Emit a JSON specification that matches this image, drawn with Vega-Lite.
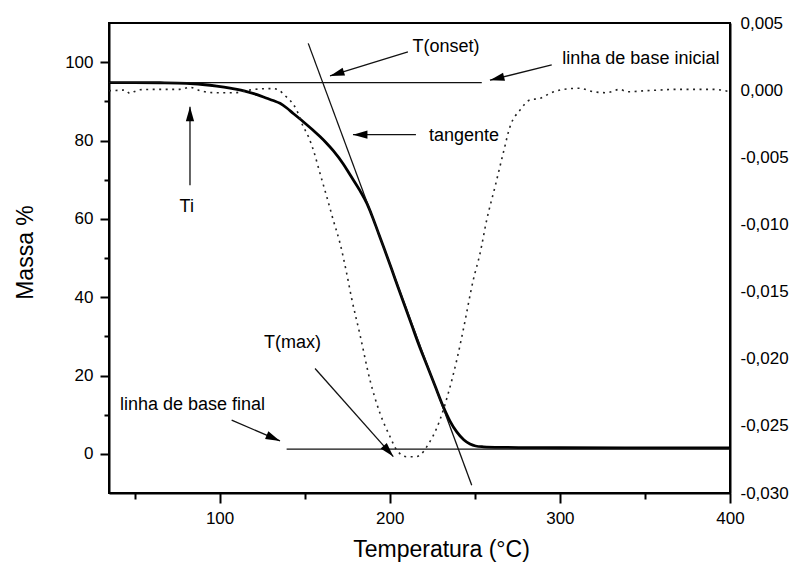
{
  "$schema": "https://vega.github.io/schema/vega-lite/v6.json",
  "width": 621,
  "height": 470,
  "autosize": {"type": "none"},
  "padding": {"left": 109, "top": 23, "right": 65, "bottom": 70},
  "background": "white",
  "config": {
    "font": "Liberation Sans",
    "view": {"stroke": "black", "strokeWidth": 2},
    "locale": {"number": {"decimal": ",", "thousands": ".", "grouping": [3], "currency": ["", ""], "minus": "-"}},
    "axis": {
      "grid": false,
      "domainColor": "black",
      "domainWidth": 2,
      "tickColor": "black",
      "tickWidth": 2,
      "labelColor": "black",
      "labelFont": "Liberation Sans",
      "labelFontSize": 17,
      "labelFlush": false,
      "labelOverlap": false,
      "titleColor": "black",
      "titleFont": "Liberation Sans",
      "titleFontSize": 23,
      "titleFontWeight": "normal"
    }
  },
  "datasets": {
    "tga": [
      {"T": 35, "m": 94.8}, {"T": 50, "m": 94.8}, {"T": 65, "m": 94.75}, {"T": 80.7, "m": 94.6},
      {"T": 90, "m": 94.3}, {"T": 98.3, "m": 93.9}, {"T": 107, "m": 93.3}, {"T": 115.9, "m": 92.5},
      {"T": 122, "m": 91.7}, {"T": 127.7, "m": 90.8}, {"T": 131.5, "m": 90.2}, {"T": 135.5, "m": 89.5},
      {"T": 139.5, "m": 88.3}, {"T": 143.3, "m": 86.9}, {"T": 149.2, "m": 84.8}, {"T": 155, "m": 82.6},
      {"T": 159, "m": 81.0}, {"T": 162.9, "m": 79.3}, {"T": 166.8, "m": 77.4}, {"T": 172.7, "m": 74.0},
      {"T": 176.6, "m": 71.3}, {"T": 182.5, "m": 67.2}, {"T": 186.5, "m": 64.0}, {"T": 189.4, "m": 61.0},
      {"T": 193, "m": 56.8}, {"T": 197, "m": 52.1}, {"T": 201, "m": 47.3}, {"T": 205, "m": 42.4},
      {"T": 209, "m": 37.6}, {"T": 213, "m": 32.8}, {"T": 217, "m": 28.0}, {"T": 221.7, "m": 22.8},
      {"T": 226.5, "m": 17.5}, {"T": 231.5, "m": 12.0}, {"T": 235.5, "m": 8.3}, {"T": 239.4, "m": 5.6},
      {"T": 243.5, "m": 3.6}, {"T": 247.2, "m": 2.5}, {"T": 250.5, "m": 2.0}, {"T": 255, "m": 1.8},
      {"T": 265, "m": 1.65}, {"T": 280, "m": 1.6}, {"T": 300, "m": 1.55}, {"T": 340, "m": 1.5},
      {"T": 400, "m": 1.5}
    ],
    "dtg": [
      {"T": 35, "d": -0.00004}, {"T": 40, "d": -0.00002}, {"T": 44.4, "d": 0.00001}, {"T": 47.3, "d": -0.00024},
      {"T": 50, "d": -0.0001}, {"T": 53.2, "d": 0.00003}, {"T": 65, "d": 0.00006}, {"T": 76.7, "d": 0.00006},
      {"T": 82.6, "d": 0.00021}, {"T": 88.5, "d": -0.00004}, {"T": 97.1, "d": -0.00019}, {"T": 108.8, "d": -0.00019},
      {"T": 117.9, "d": 0.00001}, {"T": 126.7, "d": 0.00011}, {"T": 131.4, "d": 0.00011}, {"T": 135.5, "d": -0.00005},
      {"T": 137.4, "d": -0.0003}, {"T": 141, "d": -0.0007}, {"T": 145.3, "d": -0.00148}, {"T": 149.2, "d": -0.00272},
      {"T": 152, "d": -0.0034}, {"T": 155.1, "d": -0.00446}, {"T": 159, "d": -0.00619}, {"T": 163, "d": -0.00794},
      {"T": 166.8, "d": -0.00967}, {"T": 170.8, "d": -0.01141}, {"T": 174.7, "d": -0.01364}, {"T": 177.6, "d": -0.0155},
      {"T": 182.5, "d": -0.0182}, {"T": 188.4, "d": -0.02159}, {"T": 194.3, "d": -0.02407}, {"T": 200.2, "d": -0.02581},
      {"T": 204.1, "d": -0.0268}, {"T": 210, "d": -0.0273}, {"T": 214.9, "d": -0.0273}, {"T": 217.9, "d": -0.02717},
      {"T": 221.8, "d": -0.02655}, {"T": 229.5, "d": -0.02456}, {"T": 234.4, "d": -0.02258}, {"T": 239.4, "d": -0.0201},
      {"T": 243.2, "d": -0.01786}, {"T": 249.1, "d": -0.01414}, {"T": 253.1, "d": -0.01215}, {"T": 257, "d": -0.00967},
      {"T": 261.9, "d": -0.00719}, {"T": 266.7, "d": -0.0047}, {"T": 270.7, "d": -0.00272}, {"T": 276.6, "d": -0.00148},
      {"T": 282.4, "d": -0.00073}, {"T": 288.3, "d": -0.00061}, {"T": 294.2, "d": -0.00024}, {"T": 302, "d": 0.00006},
      {"T": 311.8, "d": 0.00014}, {"T": 319.6, "d": -0.00012}, {"T": 327.5, "d": -0.00019}, {"T": 335.3, "d": 0.00006},
      {"T": 339.3, "d": -0.00012}, {"T": 351, "d": -0.00004}, {"T": 370.6, "d": 0.00006}, {"T": 390.2, "d": 0.00006},
      {"T": 400, "d": -0.00012}
    ],
    "guides": [
      {"guide": "linha de base inicial", "T1": 35, "m1": 94.8, "T2": 254.1, "m2": 94.8},
      {"guide": "tangente", "T1": 152.1, "m1": 104.8, "T2": 248.2, "m2": -8.0},
      {"guide": "linha de base final", "T1": 139.4, "m1": 1.2, "T2": 400, "m2": 1.2}
    ],
    "arrows": [
      {"arrow": "onset", "T1": 210.7, "m1": 102.6, "T2": 164.9, "m2": 96.5},
      {"arrow": "inicial", "T1": 295.2, "m1": 99.3, "T2": 258.9, "m2": 95.4},
      {"arrow": "tangente", "T1": 215.4, "m1": 81.5, "T2": 178.4, "m2": 81.5},
      {"arrow": "Ti", "T1": 82.6, "m1": 68.6, "T2": 82.6, "m2": 88.6},
      {"arrow": "max", "T1": 156.1, "m1": 21.8, "T2": 202.1, "m2": -0.7},
      {"arrow": "final", "T1": 107.1, "m1": 8.6, "T2": 135.5, "m2": 3.3}
    ],
    "notes": [
      {"label": "T(onset)", "T": 233.1, "m": 103.8},
      {"label": "linha de base inicial", "T": 347.6, "m": 100.7},
      {"label": "tangente", "T": 243.7, "m": 81.2},
      {"label": "Ti", "T": 80.7, "m": 63.1},
      {"label": "T(max)", "T": 142.9, "m": 28.4},
      {"label": "linha de base final", "T": 84.1, "m": 12.5}
    ]
  },
  "layer": [
    {
      "layer": [
        {
          "data": {"name": "tga"},
          "mark": {"type": "line", "color": "black", "strokeWidth": 2.8, "interpolate": "monotone"},
          "encoding": {
            "x": {
              "field": "T", "type": "quantitative",
              "scale": {"domain": [35, 400], "nice": false, "zero": false},
              "axis": {"orient": "bottom", "values": [100, 200, 300, 400], "tickSize": 10, "labelPadding": 7,
                       "title": "Temperatura (°C)", "titlePadding": 12, "titleX": 332, "titleAlign": "center"}
            },
            "y": {
              "field": "m", "type": "quantitative",
              "scale": {"domain": [-10, 110], "nice": false, "zero": false},
              "axis": {"orient": "left", "values": [0, 20, 40, 60, 80, 100], "tickSize": 9, "labelPadding": 7,
                       "title": "Massa %", "titlePadding": 27, "titleY": 229}
            }
          }
        },
        {
          "data": {"name": "guides"},
          "mark": {"type": "rule", "color": "#111", "strokeWidth": 1.3},
          "encoding": {
            "x": {
              "field": "T1", "type": "quantitative",
              "axis": {"orient": "bottom", "values": [50, 150, 250, 350], "tickSize": 6, "labels": false, "domain": false, "title": null}
            },
            "x2": {"field": "T2"},
            "y": {
              "field": "m1", "type": "quantitative",
              "axis": {"orient": "left", "values": [10, 30, 50, 70, 90], "tickSize": 5, "labels": false, "domain": false, "title": null}
            },
            "y2": {"field": "m2"}
          }
        },
        {
          "data": {"name": "arrows"},
          "mark": {"type": "rule", "color": "#111", "strokeWidth": 1.3},
          "encoding": {
            "x": {"field": "T1", "type": "quantitative", "axis": null},
            "x2": {"field": "T2"},
            "y": {"field": "m1", "type": "quantitative", "axis": null},
            "y2": {"field": "m2"}
          }
        },
        {
          "data": {"name": "arrows"},
          "transform": [{"filter": "datum.arrow === 'onset'"}],
          "mark": {"type": "point", "shape": "M0,0L0.57,2L-0.57,2Z", "size": 210, "filled": true, "color": "black", "opacity": 1, "angle": 252.9},
          "encoding": {
            "x": {"field": "T2", "type": "quantitative", "axis": null},
            "y": {"field": "m2", "type": "quantitative", "axis": null}
          }
        },
        {
          "data": {"name": "arrows"},
          "transform": [{"filter": "datum.arrow === 'inicial'"}],
          "mark": {"type": "point", "shape": "M0,0L0.57,2L-0.57,2Z", "size": 210, "filled": true, "color": "black", "opacity": 1, "angle": 256.3},
          "encoding": {
            "x": {"field": "T2", "type": "quantitative", "axis": null},
            "y": {"field": "m2", "type": "quantitative", "axis": null}
          }
        },
        {
          "data": {"name": "arrows"},
          "transform": [{"filter": "datum.arrow === 'tangente'"}],
          "mark": {"type": "point", "shape": "M0,0L0.57,2L-0.57,2Z", "size": 210, "filled": true, "color": "black", "opacity": 1, "angle": 270},
          "encoding": {
            "x": {"field": "T2", "type": "quantitative", "axis": null},
            "y": {"field": "m2", "type": "quantitative", "axis": null}
          }
        },
        {
          "data": {"name": "arrows"},
          "transform": [{"filter": "datum.arrow === 'Ti'"}],
          "mark": {"type": "point", "shape": "M0,0L0.57,2L-0.57,2Z", "size": 210, "filled": true, "color": "black", "opacity": 1, "angle": 0},
          "encoding": {
            "x": {"field": "T2", "type": "quantitative", "axis": null},
            "y": {"field": "m2", "type": "quantitative", "axis": null}
          }
        },
        {
          "data": {"name": "arrows"},
          "transform": [{"filter": "datum.arrow === 'max'"}],
          "mark": {"type": "point", "shape": "M0,0L0.57,2L-0.57,2Z", "size": 210, "filled": true, "color": "black", "opacity": 1, "angle": 138.5},
          "encoding": {
            "x": {"field": "T2", "type": "quantitative", "axis": null},
            "y": {"field": "m2", "type": "quantitative", "axis": null}
          }
        },
        {
          "data": {"name": "arrows"},
          "transform": [{"filter": "datum.arrow === 'final'"}],
          "mark": {"type": "point", "shape": "M0,0L0.57,2L-0.57,2Z", "size": 210, "filled": true, "color": "black", "opacity": 1, "angle": 113.5},
          "encoding": {
            "x": {"field": "T2", "type": "quantitative", "axis": null},
            "y": {"field": "m2", "type": "quantitative", "axis": null}
          }
        },
        {
          "data": {"name": "notes"},
          "mark": {"type": "text", "font": "Liberation Sans", "fontSize": 18, "color": "black", "align": "center", "baseline": "middle"},
          "encoding": {
            "x": {"field": "T", "type": "quantitative", "axis": null},
            "y": {"field": "m", "type": "quantitative", "axis": null},
            "text": {"field": "label"}
          }
        }
      ],
      "resolve": {"axis": {"x": "independent", "y": "independent"}}
    },
    {
      "data": {"name": "dtg"},
      "mark": {"type": "line", "color": "#222", "strokeWidth": 1.6, "strokeDash": [2, 4.5], "interpolate": "monotone"},
      "encoding": {
        "x": {"field": "T", "type": "quantitative", "scale": {"domain": [35, 400], "nice": false, "zero": false}, "axis": null},
        "y": {
          "field": "d", "type": "quantitative",
          "scale": {"domain": [-0.03, 0.005], "nice": false, "zero": false},
          "axis": {"orient": "right", "values": [-0.03, -0.025, -0.02, -0.015, -0.01, -0.005, 0, 0.005],
                   "format": ".3f", "ticks": false, "tickSize": 0, "labelPadding": 10, "title": null}
        }
      }
    }
  ],
  "resolve": {"scale": {"y": "independent"}}
}
